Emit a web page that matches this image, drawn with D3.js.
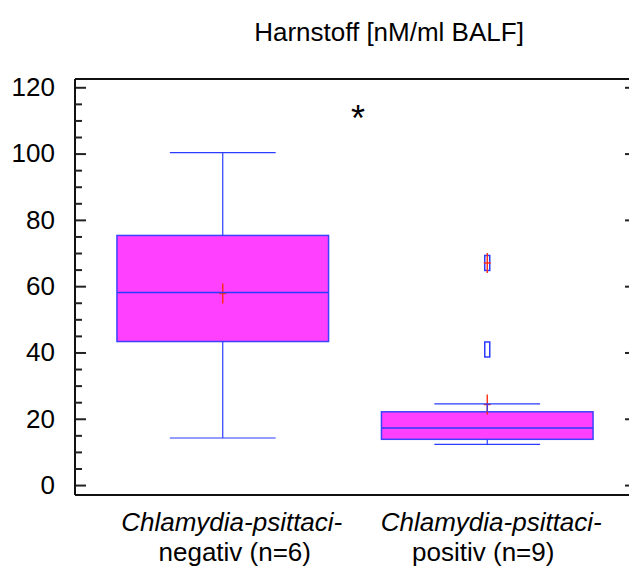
<!DOCTYPE html>
<html>
<head>
<meta charset="utf-8">
<script src="https://cdn.jsdelivr.net/npm/d3@7"></script>
<style>
  html, body { margin: 0; padding: 0; background: #fff; }
  svg { display: block; }
  text { font-family: "Liberation Sans", Arial, sans-serif; fill: #000; }
</style>
</head>
<body>
<svg id="chart" width="629" height="572"></svg>
<script>
// Urea in BALF by Chlamydia psittaci status
const categories = ["negativ", "positiv"];
const labelLine1 = ["Chlamydia-psittaci-", "Chlamydia-psittaci-"];
const labelLine2 = ["negativ (n=6)", "positiv (n=9)"];
const whiskerLow  = [14.2, 12.3];
const q1          = [43.3, 13.8];
const median      = [58.1, 17.2];
const q3          = [75.3, 22.1];
const whiskerHigh = [100.3, 24.5];
const outliers    = [[], [67.0, 40.9]];
const crossMarks  = [[57.8], [24.3, 67.0]];
const yTicks      = [0, 20, 40, 60, 80, 100, 120];
const yMinor      = d3.range(0, 121, 5).filter(v => v % 20 !== 0);
const title       = "Harnstoff [nM/ml BALF]";

const svg = d3.select("#chart");
const frame = { left: 75, right: 636, top: 79, bottom: 495 };

const y = d3.scaleLinear().domain([-3, 122.5]).range([frame.bottom, frame.top]);
const x = d3.scaleBand().domain(categories).range([90.5, 619.5]).paddingInner(0).paddingOuter(0);
const boxW = x.bandwidth() * 0.8;
const capW = boxW * 0.25;
const cx = c => x(c) + x.bandwidth() / 2;

const blue = "#2a3cff";
const boxStroke = "#3a44ff";
const magenta = "#ff40ff";
const red = "#ff2a10";

// frame lines (top and bottom)
svg.append("line").attr("x1", frame.left).attr("x2", frame.right)
  .attr("y1", frame.top).attr("y2", frame.top)
  .attr("stroke", "#111").attr("stroke-width", 2);
svg.append("line").attr("x1", frame.left).attr("x2", frame.right)
  .attr("y1", frame.bottom).attr("y2", frame.bottom)
  .attr("stroke", "#111").attr("stroke-width", 2);

// left axis with inward ticks
const leftAxis = d3.axisLeft(y).tickValues(yTicks).tickSize(-11).tickPadding(20)
  .tickFormat(d3.format("d"));
const gl = svg.append("g").attr("transform", `translate(${frame.left},0)`).call(leftAxis);
gl.select(".domain").remove();
gl.append("line").attr("y1", frame.top).attr("y2", frame.bottom)
  .attr("stroke", "#111").attr("stroke-width", 2);
gl.selectAll(".tick line").attr("stroke", "#222").attr("stroke-width", 2);
gl.selectAll(".tick text").attr("font-size", 26).attr("fill", "#000")
  .style("font-family", '"Liberation Sans", Arial, sans-serif');

const minorAxis = d3.axisLeft(y).tickValues(yMinor).tickSize(-7).tickFormat("");
const gm = svg.append("g").attr("transform", `translate(${frame.left},0)`).call(minorAxis);
gm.select(".domain").remove();
gm.selectAll(".tick line").attr("stroke", "#222").attr("stroke-width", 2);

// right axis, major ticks only
const rightAxis = d3.axisRight(y).tickValues(yTicks).tickSize(-11).tickFormat("");
const gr = svg.append("g").attr("transform", `translate(${frame.right},0)`).call(rightAxis);
gr.select(".domain").remove();
gr.selectAll(".tick line").attr("stroke", "#222").attr("stroke-width", 2);

// boxes
const groups = svg.append("g").selectAll("g").data(categories).join("g");

groups.append("rect")
  .attr("x", (c) => cx(c) - boxW / 2)
  .attr("width", boxW)
  .attr("y", (c, i) => y(q3[i]))
  .attr("height", (c, i) => y(q1[i]) - y(q3[i]))
  .attr("fill", magenta).attr("stroke", boxStroke).attr("stroke-width", 1.5);

// outliers
groups.each(function (c, i) {
  d3.select(this).selectAll("rect.out").data(outliers[i]).join("rect")
    .attr("class", "out")
    .attr("x", cx(c) - 2.5).attr("width", 5)
    .attr("y", v => y(v) - 7.5).attr("height", 15)
    .attr("fill", "#fff").attr("stroke", blue).attr("stroke-width", 1.5);
});

// red cross marks
groups.each(function (c, i) {
  const g = d3.select(this);
  crossMarks[i].forEach(v => {
    g.append("line").attr("x1", cx(c)).attr("x2", cx(c))
      .attr("y1", y(v) - 10).attr("y2", y(v) + 10)
      .attr("stroke", red).attr("stroke-width", 1.4);
    g.append("line").attr("x1", cx(c) - 3.5).attr("x2", cx(c) + 3.5)
      .attr("y1", y(v)).attr("y2", y(v))
      .attr("stroke", red).attr("stroke-width", 1.4);
  });
});

// medians, whiskers and caps
groups.append("line")
  .attr("x1", c => cx(c) - boxW / 2).attr("x2", c => cx(c) + boxW / 2)
  .attr("y1", (c, i) => y(median[i])).attr("y2", (c, i) => y(median[i]))
  .attr("stroke", blue).attr("stroke-width", 1.5);
groups.append("line")
  .attr("x1", cx).attr("x2", cx)
  .attr("y1", (c, i) => y(q3[i])).attr("y2", (c, i) => y(whiskerHigh[i]))
  .attr("stroke", blue).attr("stroke-width", 1.2);
groups.append("line")
  .attr("x1", cx).attr("x2", cx)
  .attr("y1", (c, i) => y(q1[i])).attr("y2", (c, i) => y(whiskerLow[i]))
  .attr("stroke", blue).attr("stroke-width", 1.2);
groups.append("line")
  .attr("x1", c => cx(c) - capW).attr("x2", c => cx(c) + capW)
  .attr("y1", (c, i) => y(whiskerHigh[i])).attr("y2", (c, i) => y(whiskerHigh[i]))
  .attr("stroke", blue).attr("stroke-width", 1.2);
groups.append("line")
  .attr("x1", c => cx(c) - capW).attr("x2", c => cx(c) + capW)
  .attr("y1", (c, i) => y(whiskerLow[i])).attr("y2", (c, i) => y(whiskerLow[i]))
  .attr("stroke", blue).attr("stroke-width", 1.2);

// significance marker
svg.append("text").attr("x", 358).attr("y", 131).attr("text-anchor", "middle")
  .attr("font-size", 36).text("*");

// title
svg.append("text").attr("x", 389).attr("y", 41).attr("text-anchor", "middle")
  .attr("font-size", 26).text(title);

// category labels
groups.append("text")
  .attr("x", (c, i) => cx(c) + (i === 0 ? 9 : 4)).attr("y", 531)
  .attr("text-anchor", "middle").attr("font-size", 26).attr("font-style", "italic")
  .text((c, i) => labelLine1[i]);
groups.append("text")
  .attr("x", (c, i) => cx(c) + (i === 0 ? 12 : -4)).attr("y", 561)
  .attr("text-anchor", "middle").attr("font-size", 26)
  .text((c, i) => labelLine2[i]);
</script>
</body>
</html>
